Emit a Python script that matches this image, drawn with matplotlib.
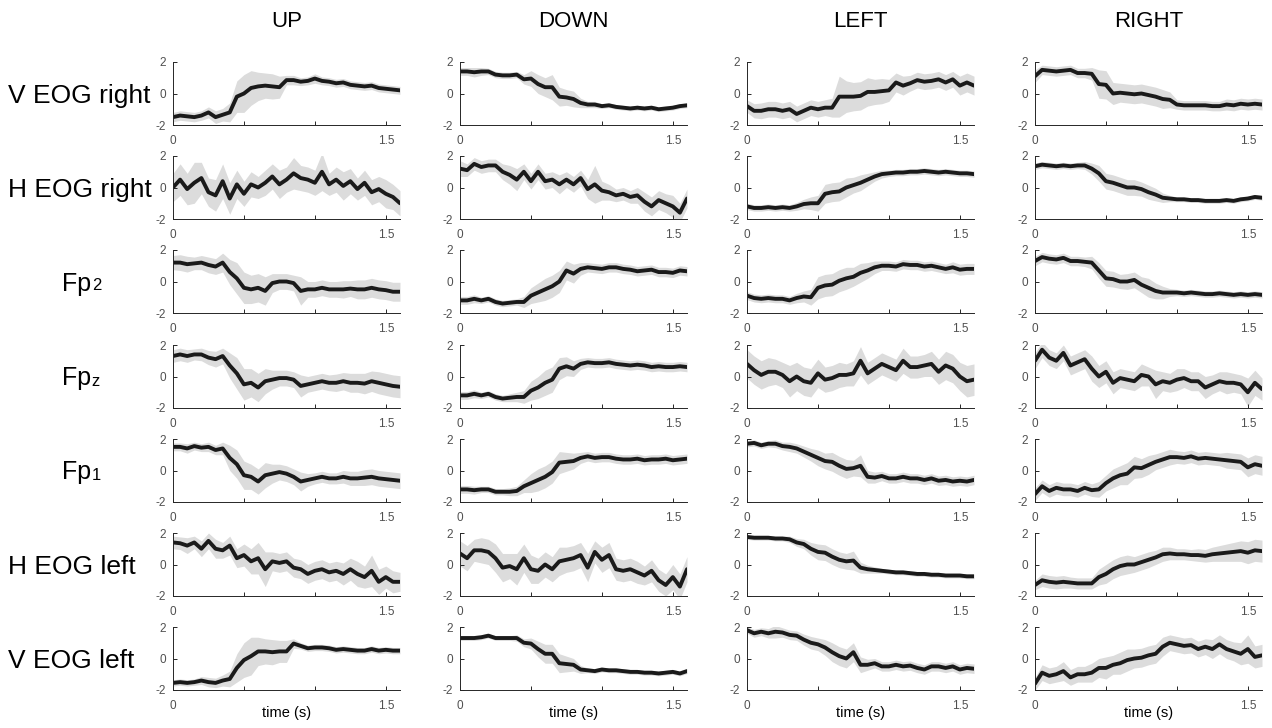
import matplotlib
matplotlib.use("Agg")
import matplotlib.pyplot as plt
import numpy as np

plt.rcParams['font.family'] = ['Liberation Sans', 'DejaVu Sans']

# time axis (s), one sample every 0.05 s
t = [0.0, 0.05, 0.1, 0.15, 0.2, 0.25, 0.3, 0.35, 0.4, 0.45, 0.5, 0.55, 0.6, 0.65, 0.7, 0.75, 0.8,
     0.85, 0.9, 0.95, 1.0, 1.05, 1.1, 1.15, 1.2, 1.25, 1.3, 1.35, 1.4, 1.45, 1.5, 1.55, 1.6]

directions = ["UP", "DOWN", "LEFT", "RIGHT"]
channels = ["V EOG right", "H EOG right", "Fp2", "Fpz", "Fp1", "H EOG left", "V EOG left"]

# mean traces, one list per channel (rows), per direction (columns)
up_mean = [
    [-1.5, -1.4, -1.45, -1.5, -1.4, -1.2, -1.5, -1.35, -1.2, -0.2, 0.0, 0.35, 0.45, 0.5, 0.45, 0.4, 0.85,
     0.85, 0.75, 0.8, 0.95, 0.8, 0.75, 0.65, 0.7, 0.55, 0.5, 0.45, 0.5, 0.35, 0.3, 0.25, 0.2],
    [0.0, 0.5, -0.1, 0.3, 0.6, -0.3, -0.5, 0.4, -0.7, 0.2, -0.4, 0.2, 0.0, 0.3, 0.7, 0.2, 0.5,
     0.9, 0.6, 0.5, 0.3, 1.0, 0.2, 0.5, 0.1, 0.4, -0.1, 0.3, -0.3, -0.1, -0.4, -0.6, -1.0],
    [1.2, 1.2, 1.1, 1.15, 1.2, 1.05, 0.95, 1.2, 0.6, 0.2, -0.4, -0.5, -0.4, -0.6, -0.1, 0.0, 0.0,
     -0.1, -0.6, -0.5, -0.5, -0.4, -0.5, -0.5, -0.5, -0.45, -0.5, -0.5, -0.4, -0.5, -0.55, -0.65, -0.65],
    [1.3, 1.4, 1.3, 1.4, 1.4, 1.2, 1.1, 1.3, 0.7, 0.2, -0.5, -0.4, -0.7, -0.3, -0.2, -0.1, -0.1,
     -0.2, -0.6, -0.5, -0.4, -0.3, -0.4, -0.4, -0.3, -0.4, -0.4, -0.45, -0.3, -0.4, -0.5, -0.6, -0.65],
    [1.5, 1.5, 1.4, 1.55, 1.45, 1.5, 1.3, 1.4, 0.8, 0.4, -0.3, -0.4, -0.7, -0.3, -0.2, -0.1, -0.2,
     -0.4, -0.7, -0.6, -0.5, -0.4, -0.5, -0.5, -0.4, -0.5, -0.5, -0.45, -0.4, -0.5, -0.55, -0.6, -0.65],
    [1.4, 1.35, 1.2, 1.4, 1.0, 1.5, 1.0, 0.9, 1.2, 0.4, 0.6, 0.2, 0.4, -0.3, 0.2, 0.1, 0.2,
     -0.2, -0.3, -0.6, -0.4, -0.3, -0.5, -0.4, -0.6, -0.3, -0.6, -0.8, -0.4, -1.1, -0.8, -1.1, -1.1],
    [-1.55, -1.5, -1.55, -1.5, -1.4, -1.5, -1.55, -1.4, -1.3, -0.6, -0.1, 0.15, 0.45, 0.45, 0.4, 0.45, 0.45,
     0.95, 0.8, 0.65, 0.7, 0.7, 0.65, 0.55, 0.6, 0.55, 0.5, 0.5, 0.6, 0.5, 0.55, 0.5, 0.5],
]
down_mean = [
    [1.4, 1.4, 1.35, 1.4, 1.4, 1.2, 1.15, 1.15, 1.2, 0.9, 0.95, 0.6, 0.4, 0.4, -0.2, -0.25, -0.35,
     -0.6, -0.7, -0.7, -0.8, -0.75, -0.85, -0.9, -0.95, -0.9, -0.95, -0.9, -1.0, -0.95, -0.9, -0.8, -0.75],
    [1.2, 1.1, 1.5, 1.3, 1.4, 1.4, 1.0, 0.8, 0.5, 1.0, 0.4, 1.0, 0.4, 0.5, 0.2, 0.5, 0.2,
     0.6, -0.1, 0.2, -0.2, -0.3, -0.5, -0.4, -0.6, -0.5, -0.9, -1.2, -0.8, -1.0, -1.2, -1.6, -0.7],
    [-1.2, -1.2, -1.1, -1.2, -1.1, -1.3, -1.4, -1.35, -1.3, -1.3, -0.9, -0.7, -0.5, -0.3, 0.0, 0.7, 0.5,
     0.8, 0.9, 0.85, 0.8, 0.9, 0.9, 0.8, 0.75, 0.65, 0.7, 0.75, 0.6, 0.6, 0.55, 0.7, 0.65],
    [-1.2, -1.2, -1.1, -1.2, -1.1, -1.3, -1.4, -1.35, -1.3, -1.3, -0.9, -0.7, -0.4, -0.2, 0.5, 0.65, 0.5,
     0.8, 0.9, 0.85, 0.85, 0.9, 0.8, 0.75, 0.7, 0.75, 0.7, 0.6, 0.65, 0.6, 0.6, 0.65, 0.6],
    [-1.2, -1.2, -1.25, -1.2, -1.2, -1.35, -1.35, -1.35, -1.3, -1.0, -0.8, -0.6, -0.4, -0.1, 0.5, 0.55, 0.6,
     0.8, 0.9, 0.8, 0.85, 0.85, 0.75, 0.7, 0.7, 0.75, 0.65, 0.7, 0.7, 0.75, 0.65, 0.7, 0.75],
    [0.7, 0.4, 0.9, 0.9, 0.8, 0.4, -0.2, -0.1, -0.3, 0.4, -0.3, -0.4, 0.0, -0.3, 0.2, 0.3, 0.4,
     0.6, -0.2, 0.8, 0.3, 0.6, -0.3, -0.4, -0.3, -0.5, -0.7, -0.4, -1.0, -1.3, -0.8, -1.4, -0.3],
    [1.3, 1.3, 1.3, 1.35, 1.45, 1.3, 1.3, 1.3, 1.3, 1.0, 0.95, 0.6, 0.3, 0.3, -0.3, -0.35, -0.4,
     -0.7, -0.75, -0.8, -0.7, -0.75, -0.75, -0.8, -0.85, -0.85, -0.9, -0.9, -0.95, -0.9, -0.85, -0.95, -0.8],
]
left_mean = [
    [-0.8, -1.1, -1.1, -1.0, -1.0, -1.1, -1.0, -1.3, -1.1, -0.9, -1.0, -0.9, -0.9, -0.2, -0.2, -0.2, -0.15,
     0.1, 0.1, 0.15, 0.2, 0.7, 0.5, 0.65, 0.85, 0.75, 0.8, 0.9, 0.7, 0.9, 0.5, 0.7, 0.5],
    [-1.2, -1.3, -1.3, -1.25, -1.3, -1.25, -1.3, -1.2, -1.05, -1.0, -1.0, -0.4, -0.3, -0.25, 0.0, 0.15, 0.3,
     0.5, 0.7, 0.85, 0.9, 0.95, 0.95, 1.0, 1.0, 1.05, 1.0, 0.95, 1.0, 0.95, 0.9, 0.9, 0.85],
    [-0.9, -1.05, -1.1, -1.05, -1.1, -1.1, -1.2, -1.05, -0.95, -1.0, -0.4, -0.25, -0.2, 0.05, 0.2, 0.3, 0.55,
     0.7, 0.9, 1.0, 1.0, 0.95, 1.1, 1.05, 1.05, 0.95, 1.0, 0.9, 0.8, 0.9, 0.75, 0.8, 0.8],
    [0.8, 0.4, 0.1, 0.3, 0.3, 0.1, -0.3, 0.0, -0.3, -0.4, 0.2, -0.2, -0.1, 0.1, 0.1, 0.2, 1.0,
     0.2, 0.5, 0.8, 0.6, 0.4, 1.0, 0.6, 0.6, 0.7, 0.8, 0.3, 0.7, 0.5, 0.0, -0.3, -0.2],
    [1.7, 1.75, 1.6, 1.7, 1.7, 1.55, 1.5, 1.4, 1.2, 1.0, 0.8, 0.6, 0.55, 0.3, 0.1, 0.15, 0.3,
     -0.4, -0.45, -0.35, -0.5, -0.5, -0.4, -0.5, -0.5, -0.6, -0.5, -0.65, -0.6, -0.7, -0.65, -0.7, -0.6],
    [1.75, 1.7, 1.7, 1.7, 1.65, 1.65, 1.6, 1.4, 1.3, 1.0, 0.8, 0.75, 0.5, 0.3, 0.2, 0.25, -0.2,
     -0.3, -0.35, -0.4, -0.45, -0.5, -0.5, -0.55, -0.6, -0.6, -0.65, -0.65, -0.7, -0.7, -0.7, -0.75, -0.75],
    [1.8, 1.6, 1.7, 1.6, 1.7, 1.65, 1.5, 1.45, 1.2, 1.0, 0.9, 0.7, 0.4, 0.15, 0.0, 0.4, -0.4,
     -0.4, -0.3, -0.5, -0.5, -0.4, -0.5, -0.45, -0.6, -0.7, -0.5, -0.5, -0.6, -0.5, -0.7, -0.6, -0.65],
]
right_mean = [
    [1.1, 1.5, 1.45, 1.4, 1.45, 1.5, 1.3, 1.3, 1.25, 0.6, 0.55, 0.0, 0.05, 0.0, -0.05, 0.0, -0.1,
     -0.2, -0.35, -0.4, -0.7, -0.75, -0.75, -0.75, -0.75, -0.8, -0.8, -0.7, -0.75, -0.65, -0.7, -0.65, -0.7],
    [1.35, 1.45, 1.4, 1.35, 1.4, 1.35, 1.4, 1.4, 1.2, 0.9, 0.4, 0.3, 0.15, 0.0, 0.0, -0.1, -0.3,
     -0.45, -0.65, -0.7, -0.75, -0.75, -0.8, -0.8, -0.85, -0.85, -0.85, -0.8, -0.85, -0.75, -0.7, -0.6, -0.65],
    [1.3, 1.55, 1.45, 1.4, 1.5, 1.3, 1.3, 1.25, 1.2, 0.7, 0.2, 0.15, 0.0, 0.0, 0.1, -0.2, -0.4,
     -0.6, -0.7, -0.7, -0.7, -0.75, -0.7, -0.75, -0.8, -0.8, -0.75, -0.8, -0.85, -0.8, -0.85, -0.8, -0.85],
    [1.0, 1.7, 1.2, 1.0, 1.5, 0.7, 0.9, 1.1, 0.5, 0.0, 0.3, -0.4, -0.1, -0.2, -0.3, 0.1, 0.0,
     -0.5, -0.3, -0.4, -0.2, -0.1, -0.3, -0.3, -0.7, -0.5, -0.3, -0.4, -0.4, -0.5, -1.0, -0.4, -0.8],
    [-1.5, -1.0, -1.3, -1.1, -1.2, -1.2, -1.3, -1.1, -1.25, -1.2, -0.8, -0.5, -0.3, -0.2, 0.2, 0.15, 0.35,
     0.55, 0.7, 0.85, 0.85, 0.8, 0.9, 0.75, 0.8, 0.75, 0.7, 0.65, 0.6, 0.55, 0.2, 0.4, 0.3],
    [-1.3, -1.0, -1.1, -1.15, -1.1, -1.15, -1.2, -1.2, -1.2, -0.8, -0.6, -0.3, -0.1, 0.0, 0.0, 0.15, 0.3,
     0.45, 0.65, 0.7, 0.65, 0.65, 0.6, 0.6, 0.55, 0.65, 0.7, 0.75, 0.8, 0.85, 0.75, 0.9, 0.85],
    [-1.6, -0.9, -1.1, -1.0, -0.8, -1.2, -1.0, -1.0, -0.9, -0.6, -0.6, -0.4, -0.3, -0.1, 0.0, 0.05, 0.2,
     0.3, 0.75, 1.0, 0.9, 0.8, 0.85, 0.6, 0.75, 0.6, 0.9, 0.6, 0.45, 0.3, 0.6, 0.1, 0.2],
]

# half-width of the grey band around each trace
up_band = [
    [0.3, 0.3, 0.3, 0.3, 0.3, 0.35, 0.4, 0.4, 0.6, 1.0, 1.2, 1.1, 0.9, 0.8, 0.8, 0.7, 0.3,
     0.3, 0.25, 0.25, 0.3, 0.25, 0.25, 0.25, 0.25, 0.25, 0.25, 0.25, 0.25, 0.25, 0.25, 0.25, 0.25],
    [0.9, 1.0, 1.0, 1.3, 1.0, 0.9, 1.0, 1.1, 1.0, 0.9, 0.8, 0.8, 0.7, 0.8, 0.8, 0.9, 0.8,
     1.0, 0.8, 0.8, 0.8, 1.2, 0.7, 0.8, 0.9, 0.8, 0.7, 0.8, 0.8, 0.8, 0.9, 0.8, 0.8],
    [0.45, 0.5, 0.5, 0.4, 0.45, 0.5, 0.5, 0.6, 0.8, 1.0, 1.0, 0.9, 0.9, 0.9, 0.6, 0.5, 0.5,
     0.5, 0.9, 0.5, 0.5, 0.5, 0.5, 0.5, 0.55, 0.5, 0.6, 0.6, 0.6, 0.6, 0.6, 0.6, 0.6],
    [0.4, 0.4, 0.4, 0.35, 0.4, 0.45, 0.5, 0.5, 0.8, 1.0, 1.0, 0.9, 0.9, 0.8, 0.6, 0.5, 0.5,
     0.5, 0.7, 0.5, 0.5, 0.5, 0.5, 0.55, 0.55, 0.6, 0.6, 0.65, 0.65, 0.7, 0.7, 0.7, 0.7],
    [0.25, 0.25, 0.3, 0.25, 0.25, 0.3, 0.3, 0.4, 0.8, 0.9, 0.9, 0.8, 0.8, 0.8, 0.6, 0.5, 0.5,
     0.5, 0.6, 0.4, 0.35, 0.35, 0.35, 0.35, 0.4, 0.45, 0.45, 0.5, 0.5, 0.5, 0.5, 0.5, 0.5],
    [0.4, 0.4, 0.5, 0.4, 0.5, 0.5, 0.6, 0.5, 0.6, 0.6, 0.7, 0.8, 1.0, 1.1, 0.6, 0.6, 0.6,
     0.6, 0.6, 0.6, 0.6, 0.6, 0.6, 0.6, 0.7, 0.7, 0.8, 0.7, 1.0, 0.8, 0.7, 0.7, 0.6],
    [0.2, 0.2, 0.2, 0.2, 0.25, 0.3, 0.3, 0.35, 0.5, 0.9, 1.1, 1.2, 0.9, 0.8, 0.8, 0.7, 0.7,
     0.3, 0.2, 0.2, 0.2, 0.2, 0.2, 0.2, 0.2, 0.2, 0.2, 0.2, 0.2, 0.2, 0.2, 0.2, 0.2],
]
down_band = [
    [0.25, 0.25, 0.3, 0.25, 0.2, 0.2, 0.2, 0.2, 0.2, 0.3, 0.5, 0.6, 0.6, 0.8, 0.6, 0.5, 0.5,
     0.3, 0.2, 0.2, 0.15, 0.15, 0.15, 0.15, 0.15, 0.15, 0.15, 0.15, 0.15, 0.15, 0.15, 0.15, 0.15],
    [0.5, 0.4, 0.4, 0.4, 0.4, 0.4, 0.5, 0.6, 0.7, 0.5, 0.5, 0.5, 0.5, 0.5, 0.6, 0.5, 0.5,
     0.5, 0.6, 1.2, 0.6, 0.5, 0.4, 0.4, 0.4, 0.5, 0.6, 0.6, 0.6, 0.6, 0.7, 0.6, 0.6],
    [0.25, 0.25, 0.25, 0.2, 0.2, 0.2, 0.2, 0.2, 0.2, 0.35, 0.5, 0.6, 0.7, 0.7, 0.7, 0.6, 0.6,
     0.4, 0.3, 0.3, 0.3, 0.3, 0.3, 0.3, 0.3, 0.3, 0.3, 0.3, 0.3, 0.3, 0.3, 0.3, 0.3],
    [0.25, 0.25, 0.25, 0.2, 0.2, 0.2, 0.2, 0.25, 0.3, 0.4, 0.6, 0.7, 0.8, 0.8, 0.7, 0.6, 0.5,
     0.35, 0.3, 0.3, 0.3, 0.3, 0.3, 0.3, 0.3, 0.3, 0.3, 0.3, 0.3, 0.3, 0.3, 0.3, 0.3],
    [0.25, 0.25, 0.25, 0.2, 0.2, 0.2, 0.2, 0.25, 0.3, 0.4, 0.6, 0.7, 0.7, 0.7, 0.7, 0.6, 0.5,
     0.35, 0.3, 0.3, 0.3, 0.3, 0.3, 0.3, 0.3, 0.3, 0.3, 0.3, 0.3, 0.3, 0.3, 0.3, 0.3],
    [0.8, 0.8, 0.7, 0.8, 0.8, 0.9, 0.9, 0.8, 1.0, 0.9, 0.9, 0.8, 0.8, 0.8, 0.9, 0.8, 0.8,
     0.8, 0.9, 0.7, 0.8, 0.8, 0.7, 0.7, 0.7, 0.7, 0.6, 0.7, 0.7, 0.7, 0.8, 0.8, 0.8],
    [0.15, 0.15, 0.15, 0.15, 0.15, 0.15, 0.15, 0.15, 0.2, 0.25, 0.35, 0.5, 0.6, 0.6, 0.6, 0.5, 0.4,
     0.25, 0.15, 0.15, 0.15, 0.15, 0.15, 0.15, 0.15, 0.15, 0.15, 0.15, 0.15, 0.15, 0.15, 0.15, 0.15],
]
left_band = [
    [0.4, 0.45, 0.5, 0.5, 0.5, 0.5, 0.5, 0.5, 0.5, 0.5, 0.5, 0.5, 0.6, 1.3, 1.0, 0.9, 0.9,
     0.9, 0.8, 0.8, 0.7, 0.6, 0.6, 0.5, 0.5, 0.5, 0.5, 0.5, 0.5, 0.5, 0.6, 0.6, 0.6],
    [0.2, 0.2, 0.2, 0.2, 0.2, 0.2, 0.2, 0.25, 0.3, 0.4, 0.5, 0.6, 0.6, 0.6, 0.6, 0.5, 0.5,
     0.4, 0.3, 0.25, 0.2, 0.2, 0.2, 0.2, 0.2, 0.2, 0.2, 0.2, 0.2, 0.2, 0.2, 0.2, 0.2],
    [0.25, 0.25, 0.25, 0.25, 0.25, 0.25, 0.25, 0.3, 0.35, 0.5, 0.7, 0.7, 0.7, 0.7, 0.7, 0.6, 0.6,
     0.5, 0.4, 0.3, 0.3, 0.3, 0.3, 0.3, 0.3, 0.3, 0.3, 0.3, 0.3, 0.35, 0.35, 0.35, 0.35],
    [0.9, 0.9, 0.9, 0.9, 0.8, 0.8, 1.0, 0.9, 0.9, 0.9, 0.9, 0.8, 0.8, 0.8, 0.7, 0.8, 0.9,
     0.7, 0.7, 0.7, 0.7, 0.7, 0.8, 0.7, 0.7, 0.7, 0.8, 0.8, 0.9, 0.9, 0.9, 1.0, 1.0],
    [0.2, 0.2, 0.2, 0.2, 0.25, 0.25, 0.3, 0.3, 0.35, 0.4, 0.5, 0.5, 0.6, 0.6, 0.6, 0.5, 0.7,
     0.4, 0.35, 0.3, 0.3, 0.3, 0.3, 0.3, 0.3, 0.3, 0.3, 0.3, 0.3, 0.3, 0.3, 0.3, 0.3],
    [0.15, 0.15, 0.15, 0.15, 0.15, 0.15, 0.2, 0.25, 0.3, 0.4, 0.5, 0.5, 0.5, 0.5, 0.5, 0.6, 0.35,
     0.25, 0.2, 0.15, 0.15, 0.15, 0.15, 0.15, 0.15, 0.15, 0.15, 0.15, 0.15, 0.15, 0.15, 0.15, 0.15],
    [0.2, 0.25, 0.25, 0.3, 0.4, 0.3, 0.3, 0.3, 0.35, 0.4, 0.4, 0.5, 0.6, 0.6, 0.6, 0.6, 0.5,
     0.35, 0.3, 0.3, 0.3, 0.3, 0.3, 0.3, 0.3, 0.3, 0.3, 0.3, 0.3, 0.3, 0.3, 0.3, 0.3],
]
right_band = [
    [0.4, 0.3, 0.3, 0.3, 0.3, 0.3, 0.3, 0.3, 0.4, 0.9, 0.9, 0.7, 0.6, 0.6, 0.6, 0.6, 0.6,
     0.6, 0.6, 0.5, 0.3, 0.3, 0.3, 0.3, 0.3, 0.3, 0.3, 0.35, 0.35, 0.35, 0.35, 0.35, 0.35],
    [0.2, 0.2, 0.2, 0.2, 0.2, 0.2, 0.2, 0.25, 0.35, 0.5, 0.5, 0.5, 0.5, 0.5, 0.5, 0.45, 0.45,
     0.4, 0.3, 0.2, 0.15, 0.15, 0.15, 0.15, 0.15, 0.15, 0.15, 0.15, 0.15, 0.15, 0.15, 0.15, 0.15],
    [0.3, 0.3, 0.3, 0.3, 0.3, 0.3, 0.3, 0.3, 0.4, 0.5, 0.5, 0.5, 0.45, 0.5, 0.5, 0.5, 0.6,
     0.5, 0.4, 0.25, 0.2, 0.2, 0.2, 0.2, 0.2, 0.2, 0.2, 0.2, 0.2, 0.2, 0.2, 0.2, 0.2],
    [0.5, 0.5, 0.5, 0.5, 0.5, 0.6, 0.6, 0.6, 0.8, 0.7, 0.7, 0.7, 0.6, 0.6, 0.6, 0.7, 0.6,
     0.9, 0.6, 0.6, 0.7, 0.6, 0.6, 0.6, 0.7, 0.6, 0.6, 0.7, 0.6, 0.6, 0.9, 0.8, 0.7],
    [0.4, 0.4, 0.4, 0.4, 0.4, 0.4, 0.4, 0.4, 0.4, 0.5, 0.5, 0.6, 0.6, 0.7, 0.7, 0.6, 0.6,
     0.5, 0.5, 0.5, 0.4, 0.4, 0.4, 0.4, 0.4, 0.4, 0.4, 0.5, 0.5, 0.5, 0.6, 0.6, 0.6],
    [0.3, 0.4, 0.4, 0.4, 0.4, 0.35, 0.35, 0.35, 0.35, 0.5, 0.6, 0.6, 0.6, 0.6, 0.5, 0.5, 0.5,
     0.45, 0.45, 0.4, 0.35, 0.35, 0.35, 0.4, 0.4, 0.45, 0.5, 0.55, 0.6, 0.65, 0.7, 0.7, 0.7],
    [0.4, 0.5, 0.5, 0.5, 0.6, 0.5, 0.5, 0.5, 0.6, 0.6, 0.7, 0.6, 0.7, 0.7, 0.6, 0.6, 0.6,
     0.6, 0.6, 0.5, 0.5, 0.5, 0.5, 0.5, 0.5, 0.6, 0.6, 0.6, 0.6, 0.7, 0.9, 0.7, 0.7],
]

means = [up_mean, down_mean, left_mean, right_mean]
bands = [up_band, down_band, left_band, right_band]

W, H = 1272, 728
fig = plt.figure(figsize=(W / 100, H / 100), dpi=100)

col_left = [173, 460, 747, 1035]
ax_w, ax_h = 227, 63
row_top = [62, 156, 250, 345, 439, 533, 627]
axis_col = '#262626'
tick_col = '#505050'

tt = np.array(t)
for c in range(4):
    for r in range(7):
        ax = fig.add_axes([col_left[c] / W, 1 - (row_top[r] + ax_h) / H, ax_w / W, ax_h / H])
        m = np.array(means[c][r])
        b = np.array(bands[c][r])
        ax.fill_between(tt, m - b, m + b, color='#dcdcdc', lw=0)
        ax.plot(tt, m, color='#1a1a1a', lw=2.8, solid_joinstyle='round', solid_capstyle='round')
        ax.set_xlim(0, 1.6)
        ax.set_ylim(-2, 2)
        ax.set_xticks([0, 0.5, 1.0, 1.5])
        ax.set_xticklabels(['0', '', '', '1.5'])
        ax.set_yticks([-2, 0, 2])
        ax.set_yticklabels(['-2', '0', '2'])
        for s in ['top', 'right']:
            ax.spines[s].set_visible(False)
        for s in ['left', 'bottom']:
            ax.spines[s].set_color(axis_col)
            ax.spines[s].set_linewidth(0.7)
        ax.tick_params(direction='in', length=3, width=0.7, color=axis_col,
                       labelsize=8.5, labelcolor=tick_col, pad=5)
        ax.tick_params(axis='x', pad=7)
        if r == 0:
            ax.set_title(directions[c], fontsize=16, pad=25)
        if r == 6:
            ax.set_xlabel('time (s)', fontsize=10.5, labelpad=-4)

# row labels, vertically centred on their row of axes
for r, name in enumerate(channels):
    y = 1 - (row_top[r] + ax_h / 2 + 9) / H
    if name.startswith('Fp'):
        t1 = fig.text(62 / W, y, 'Fp', fontsize=18, va='baseline', ha='left')
        fig.canvas.draw()
        bb = t1.get_window_extent()
        fig.text(bb.x1 / W + 0.0005, y, name[2], fontsize=12, va='baseline', ha='left')
    else:
        fig.text(8 / W, y, name, fontsize=19, va='baseline', ha='left')

fig.savefig('out.png', dpi=100)
